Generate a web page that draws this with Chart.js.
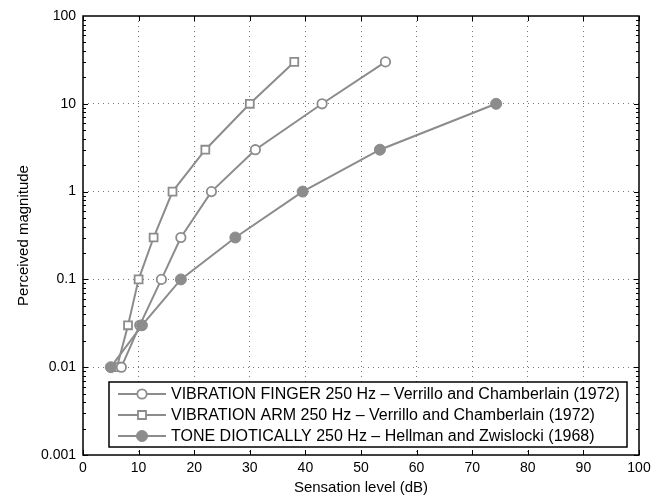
<!DOCTYPE html>
<html>
<head>
<meta charset="utf-8">
<script src="https://cdn.jsdelivr.net/npm/chart.js@4/dist/chart.umd.min.js"></script>
<style>
  html, body { margin: 0; padding: 0; background: #fff; }
  #wrap { width: 668px; height: 497px; }
</style>
</head>
<body>
<div id="wrap"><canvas id="myChart" width="668" height="497"></canvas></div>
<script>
// values
const magnitudes = [0.01, 0.03, 0.1, 0.3, 1, 3, 10, 30];
const fingerLevel = [6.9, 10.2, 14.1, 17.6, 23.1, 31.0, 43.0, 54.4];
const armLevel = [6.1, 8.1, 10.0, 12.7, 16.1, 22.0, 30.0, 38.0];
const toneLevel = [5.0, 10.6, 17.6, 27.4, 39.5, 53.4, 74.3];
const xTicks = [0, 10, 20, 30, 40, 50, 60, 70, 80, 90, 100];
const yTicks = [0.001, 0.01, 0.1, 1, 10, 100];
const seriesLabels = [
  'VIBRATION FINGER 250 Hz \u2013 Verrillo and Chamberlain (1972)',
  'VIBRATION ARM 250 Hz \u2013 Verrillo and Chamberlain (1972)',
  'TONE DIOTICALLY 250 Hz \u2013 Hellman and Zwislocki (1968)'
];

const grey = 'rgb(140,140,140)';
const fontFam = '"Liberation Sans", Arial, Helvetica, sans-serif';

function pts(xs, ys) {
  return xs.map(function (x, i) { return {x: x, y: ys[i]}; });
}

// frame, inward ticks and minor log ticks
const framePlugin = {
  id: 'frame',
  afterDatasetsDraw(chart) {
    const ctx = chart.ctx;
    const a = chart.chartArea;
    const xs = chart.scales.x, ys = chart.scales.y;
    ctx.save();
    ctx.strokeStyle = '#000';
    ctx.lineWidth = 1;
    ctx.beginPath();
    xTicks.forEach(function (v) {
      const px = Math.round(xs.getPixelForValue(v)) + 0.5;
      ctx.moveTo(px, a.bottom); ctx.lineTo(px, a.bottom - 5);
      ctx.moveTo(px, a.top); ctx.lineTo(px, a.top + 5);
    });
    for (let e = -3; e < 2; e++) {
      for (let m = 1; m <= 9; m++) {
        const v = m * Math.pow(10, e);
        const py = Math.round(ys.getPixelForValue(v)) + 0.5;
        const len = m === 1 ? 5 : 3;
        ctx.moveTo(a.left, py); ctx.lineTo(a.left + len, py);
        ctx.moveTo(a.right, py); ctx.lineTo(a.right - len, py);
      }
    }
    ctx.stroke();
    ctx.lineWidth = 1.5;
    ctx.strokeRect(a.left, a.top, a.right - a.left, a.bottom - a.top);
    ctx.restore();
  }
};

// legend box inside the plot, bottom right
const legendPlugin = {
  id: 'boxLegend',
  afterDraw(chart) {
    const ctx = chart.ctx;
    const bx = 109, by = 382, bw = 518, bh = 65;
    ctx.save();
    ctx.fillStyle = '#fff';
    ctx.fillRect(bx, by, bw, bh);
    ctx.strokeStyle = '#000';
    ctx.lineWidth = 1.5;
    ctx.strokeRect(bx, by, bw, bh);
    ctx.font = '16px ' + fontFam;
    ctx.textBaseline = 'middle';
    [0, 1, 2].forEach(function (i, row) {
      const ds = chart.data.datasets.find(function (d) { return d.label === seriesLabels[i]; });
      const y = by + 12 + row * 21;
      ctx.strokeStyle = grey;
      ctx.lineWidth = 2;
      ctx.beginPath();
      ctx.moveTo(118, y); ctx.lineTo(166, y);
      ctx.stroke();
      ctx.fillStyle = ds.pointBackgroundColor;
      ctx.lineWidth = ds.pointBorderWidth;
      ctx.beginPath();
      if (ds.pointStyle === 'rect') {
        ctx.rect(142 - 4, y - 4, 8, 8);
      } else {
        ctx.arc(142, y, ds.pointRadius, 0, Math.PI * 2);
      }
      ctx.fill();
      ctx.stroke();
      ctx.fillStyle = '#000';
      ctx.fillText(seriesLabels[i], 171, y + 1);
    });
    ctx.restore();
  }
};

const ctx = document.getElementById('myChart').getContext('2d');
const myChart = new Chart(ctx, {
  type: 'line',
  data: {
    datasets: [
      {
        label: seriesLabels[2],
        data: pts(toneLevel, magnitudes),
        borderColor: grey,
        borderWidth: 2,
        pointStyle: 'circle',
        pointRadius: 5.5,
        pointBackgroundColor: grey,
        pointBorderColor: grey,
        pointBorderWidth: 1,
        order: 0
      },
      {
        label: seriesLabels[0],
        data: pts(fingerLevel, magnitudes),
        borderColor: grey,
        borderWidth: 2,
        pointStyle: 'circle',
        pointRadius: 4.7,
        pointBackgroundColor: '#fff',
        pointBorderColor: grey,
        pointBorderWidth: 1.8,
        order: 1
      },
      {
        label: seriesLabels[1],
        data: pts(armLevel, magnitudes),
        borderColor: grey,
        borderWidth: 2,
        pointStyle: 'rect',
        pointRadius: 5.6,
        pointBackgroundColor: '#fff',
        pointBorderColor: grey,
        pointBorderWidth: 1.8,
        order: 2
      }
    ]
  },
  options: {
    responsive: false,
    animation: false,
    clip: false,
    layout: { padding: { top: 16, right: 29, left: 0, bottom: 0 } },
    plugins: {
      legend: { display: false },
      tooltip: { enabled: false }
    },
    scales: {
      x: {
        type: 'linear',
        min: 0,
        max: 100,
        afterBuildTicks(scale) {
          scale.ticks = xTicks.map(function (v) { return {value: v}; });
        },
        afterFit(scale) { scale.height = 42; },
        grid: {
          color: function (c) {
            return (c.tick && (c.tick.value === 0 || c.tick.value === 100)) ? 'rgba(0,0,0,0)' : 'rgb(120,120,120)';
          },
          lineWidth: 1,
          drawTicks: false
        },
        border: { display: false, dash: [1, 4] },
        ticks: {
          color: '#000',
          padding: 5,
          maxRotation: 0,
          font: { family: fontFam, size: 14 }
        },
        title: {
          display: true,
          text: 'Sensation level (dB)',
          color: '#000',
          padding: { top: 0, bottom: 0 },
          font: { family: fontFam, size: 15 }
        }
      },
      y: {
        type: 'logarithmic',
        min: 0.001,
        max: 100,
        afterBuildTicks(scale) {
          scale.ticks = yTicks.map(function (v) { return {value: v}; });
        },
        afterFit(scale) { scale.width = 83; },
        grid: {
          color: function (c) {
            return (c.tick && (c.tick.value === 0.001 || c.tick.value === 100)) ? 'rgba(0,0,0,0)' : 'rgb(120,120,120)';
          },
          lineWidth: 1,
          drawTicks: false
        },
        border: { display: false, dash: [1, 4] },
        ticks: {
          color: '#000',
          padding: 7,
          font: { family: fontFam, size: 14 },
          callback: function (v) { return String(v); }
        },
        title: {
          display: true,
          text: 'Perceived magnitude',
          color: '#000',
          padding: { top: 15, bottom: 0 },
          font: { family: fontFam, size: 15 }
        }
      }
    }
  },
  plugins: [framePlugin, legendPlugin]
});
</script>
</body>
</html>
